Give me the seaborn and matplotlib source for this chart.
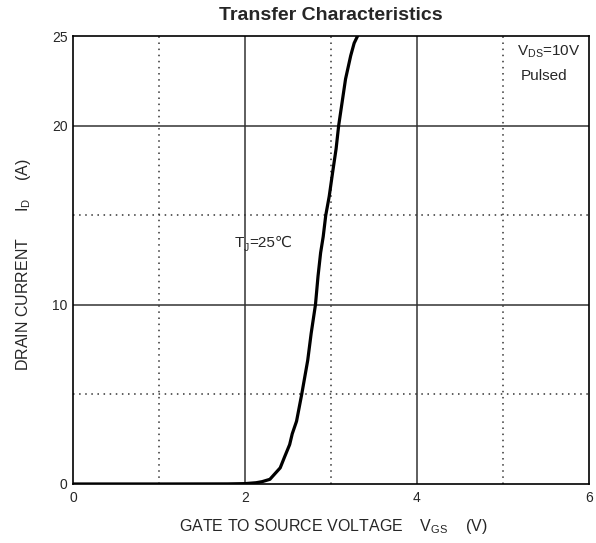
import numpy as np
import pandas as pd
import matplotlib
matplotlib.use('Agg')
import matplotlib.pyplot as plt
import seaborn as sns

# --- Data ---
vgs = [0.0, 1.0, 1.8, 2.0, 2.13, 2.20, 2.29, 2.41, 2.46, 2.52, 2.55, 2.60,
       2.66, 2.73, 2.77, 2.82, 2.85, 2.88, 2.91, 2.94, 2.98, 3.02, 3.06,
       3.09, 3.13, 3.17, 3.23, 3.27, 3.31]
i_d = [0.0, 0.0, 0.005, 0.02, 0.07, 0.13, 0.26, 0.9, 1.5, 2.2, 2.8, 3.5,
       5.0, 6.9, 8.4, 10.0, 11.6, 12.9, 13.8, 15.0, 16.05, 17.4, 18.7,
       20.0, 21.3, 22.6, 23.9, 24.6, 25.0]

x_major = [0, 2, 4, 6]
x_minor = [1, 3, 5]
y_major = [0, 10, 20, 25]
y_minor = [5, 15]

df = pd.DataFrame({'VGS': vgs, 'ID': i_d})

sns.set_style('white')
plt.rcParams['font.family'] = ['Liberation Sans', 'DejaVu Sans']
plt.rcParams['mathtext.fontset'] = 'custom'
plt.rcParams['mathtext.rm'] = 'Liberation Sans'

fig = plt.figure(figsize=(5.96, 5.43), dpi=100)
ax = fig.add_axes([0.1225, 0.1087, 0.8655, 0.825])

# grid: solid at major, dotted at minor
for v in [2, 4]:
    ax.axvline(v, color='#333333', lw=1.1, zorder=1)
for v in x_minor:
    ax.axvline(v, color='#333333', lw=1.1, ls=(0, (1, 3)), zorder=1)
for v in [10, 20]:
    ax.axhline(v, color='#333333', lw=1.1, zorder=1)
for v in y_minor:
    ax.axhline(v, color='#333333', lw=1.1, ls=(0, (1, 3)), zorder=1)

sns.lineplot(data=df, x='VGS', y='ID', ax=ax, color='black', lw=2.3, zorder=3)
ax.lines[-1].set_solid_joinstyle('round')

ax.set_xlim(0, 6)
ax.set_ylim(0, 25)
ax.set_xticks(x_major)
ax.set_yticks(y_major)
ax.tick_params(axis='both', length=0, labelsize=10)
ax.tick_params(axis='y', pad=4)
ax.tick_params(axis='x', pad=5)
for s in ax.spines.values():
    s.set_color('black')
    s.set_linewidth(1.2)

ax.set_title('Transfer Characteristics', fontsize=14, fontweight='bold', pad=11.5)
ax.set_xlabel(r'GATE TO SOURCE VOLTAGE    V$_{\mathregular{GS}}$    (V)', fontsize=11.5)
ax.set_ylabel(r'DRAIN CURRENT      I$_{\mathregular{D}}$    (A)', fontsize=11.5)
ax.xaxis.set_label_coords(0.505, -0.0737)
ax.yaxis.set_label_coords(-0.0776, 0.489)

ax.text(5.17, 23.9, r'V$_{\mathregular{DS}}$=10V', fontsize=11, va='baseline', ha='left')
ax.text(5.21, 22.57, 'Pulsed', fontsize=11, va='baseline', ha='left')

# T_J=25℃ built from pieces so the ℃ sign can fall back to DejaVu Sans
t_main = ax.text(1.875, 13.24, 'T', fontsize=11, va='baseline', ha='left')
t_sub = ax.annotate('J', xy=(1, 0), xycoords=t_main, xytext=(0.2, -2.5),
                    textcoords='offset points', fontsize=7.5, va='bottom', ha='left')
ax.annotate('=25℃', xy=(1, 0), xycoords=(t_sub, t_main), xytext=(0.3, 0),
            textcoords='offset points', fontsize=11, va='bottom', ha='left')

fig.savefig('out.png', dpi=100)
